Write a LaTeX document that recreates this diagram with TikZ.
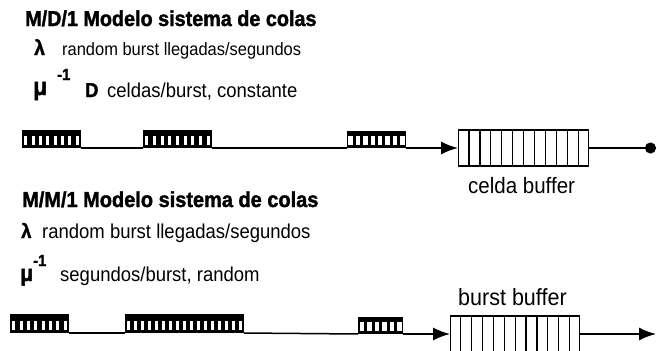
\documentclass[tikz,border=0pt]{standalone}
\usepackage{fontspec}
\setmainfont[FakeStretch=0.92, BoldFeatures={FakeBold=1.6}]{Liberation Sans}
\usetikzlibrary{arrows.meta, calc}

\newcommand{\fsz}[1]{\fontsize{#1pt}{#1pt}\selectfont}

% white slits in a black packet: name, count, fraction of pitch
\newcommand{\packetslits}[3]{%
  \foreach \k in {1,...,#2}{%
    \fill[white] ($(#1.south west)!{(\k-0.5-#3/2)/#2}!(#1.south east)+(0,-3.5)$)
      rectangle ($(#1.south west)!{(\k-0.5+#3/2)/#2}!(#1.south east)+(0,-12.5)$);
  }%
}
% dividers of a buffer: name, count of cells
\newcommand{\buffercells}[2]{%
  \foreach \k in {1,...,\numexpr#2-1\relax}{%
    \draw[line width=1.2pt] ($(#1.north west)!{\k/#2}!(#1.north east)$)
      -- ($(#1.south west)!{\k/#2}!(#1.south east)$);
  }%
}

\tikzset{
  titletext/.style={anchor=base west, inner sep=0pt, font=\fsz{21.5}\bfseries},
  bodytext/.style={anchor=base west, inner sep=0pt},
  symtext/.style={anchor=base west, inner sep=0pt, font=\bfseries},
  packet/.style={draw, fill=black, line width=1pt, minimum height=17pt, inner sep=0pt, anchor=south west},
  buffer/.style={draw, fill=white, line width=1.4pt, minimum height=36pt, minimum width=130pt, inner sep=0pt, anchor=west},
  bus/.style={line width=1.5pt},
  feed/.style={bus, -{Latex[length=17pt,width=13pt]}},
}

\begin{document}
\begin{tikzpicture}[x=1pt, y=-1pt]
\useasboundingbox (0,0) rectangle (657,351);

% M/D/1
\node[titletext] (title1) at (25,26) {M/D/1 Modelo sistema de colas};
\node[symtext, font=\fsz{21}\bfseries] (lam1) at (34,55) {λ};
\node[bodytext, font=\fsz{17.9}] (rate1) at (62,55) {random burst llegadas/segundos};
\node[symtext, font=\fsz{25}\bfseries] (mu1) at (33,95) {μ};
\node[symtext, font=\fsz{16}\bfseries] (inv1) at (57,80) {-1};
\node[symtext, font=\fsz{20}\bfseries] (dd1) at (85,97) {D};
\node[bodytext, font=\fsz{20.1}] (serv1) at (107,97) {celdas/burst, constante};

\node[packet, minimum width=58pt] (p1) at (22,148) {};
\node[packet, minimum width=68pt] (p2) at (143,148) {};
\node[packet, minimum width=58pt, minimum height=16pt] (p3) at (347,148) {};
\packetslits{p1}{8}{0.4}
\packetslits{p2}{9}{0.4}
\packetslits{p3}{8}{0.6}
\node[buffer] (b1) at (458,148) {};
\buffercells{b1}{12}
\coordinate (out1) at (656,148);
\draw[bus] (p1.south east) -- (p2.south west);
\draw[bus] (p2.south east) -- (p3.south west);
\draw[feed] (p3.south east) -- (b1.west);
\draw[bus, -{Circle[length=11pt]}] (b1.east) -- (out1);
\node[bodytext, font=\fsz{22.3}] (lab1) at (468,193) {celda buffer};

% M/M/1
\node[titletext, font=\fsz{21.7}\bfseries] (title2) at (22,207) {M/M/1 Modelo sistema de colas};
\node[symtext, font=\fsz{20}\bfseries] (lam2) at (21,238) {λ};
\node[bodytext, font=\fsz{20.1}] (rate2) at (42,238) {random burst llegadas/segundos};
\node[symtext, font=\fsz{23}\bfseries] (mu2) at (20,281) {μ};
\node[symtext, font=\fsz{16}\bfseries] (inv2) at (33,266) {-1};
\node[bodytext, font=\fsz{20.1}] (serv2) at (60,281) {segundos/burst, random};

\node[packet, minimum width=58pt, minimum height=18pt] (q1) at (10,333) {};
\node[packet, minimum width=118pt, minimum height=18pt] (q2) at (125,333) {};
\node[packet, minimum width=44pt, minimum height=16pt] (q3) at (358,334) {};
\packetslits{q1}{8}{0.4}
\packetslits{q2}{17}{0.4}
\packetslits{q3}{6}{0.6}
\node[buffer, minimum width=129pt] (b2) at (450,334) {};
\buffercells{b2}{12}
\coordinate (out2) at (656,334);
\draw[bus] (q1.south east) -- (q2.south west);
\draw[bus] (q2.south east) -- (q3.south west);
\draw[feed] (q3.south east) -- (b2.west);
\draw[feed] (b2.east) -- (out2);
\node[bodytext, font=\fsz{23.4}] (lab2) at (458,305) {burst buffer};
\end{tikzpicture}
\end{document}
